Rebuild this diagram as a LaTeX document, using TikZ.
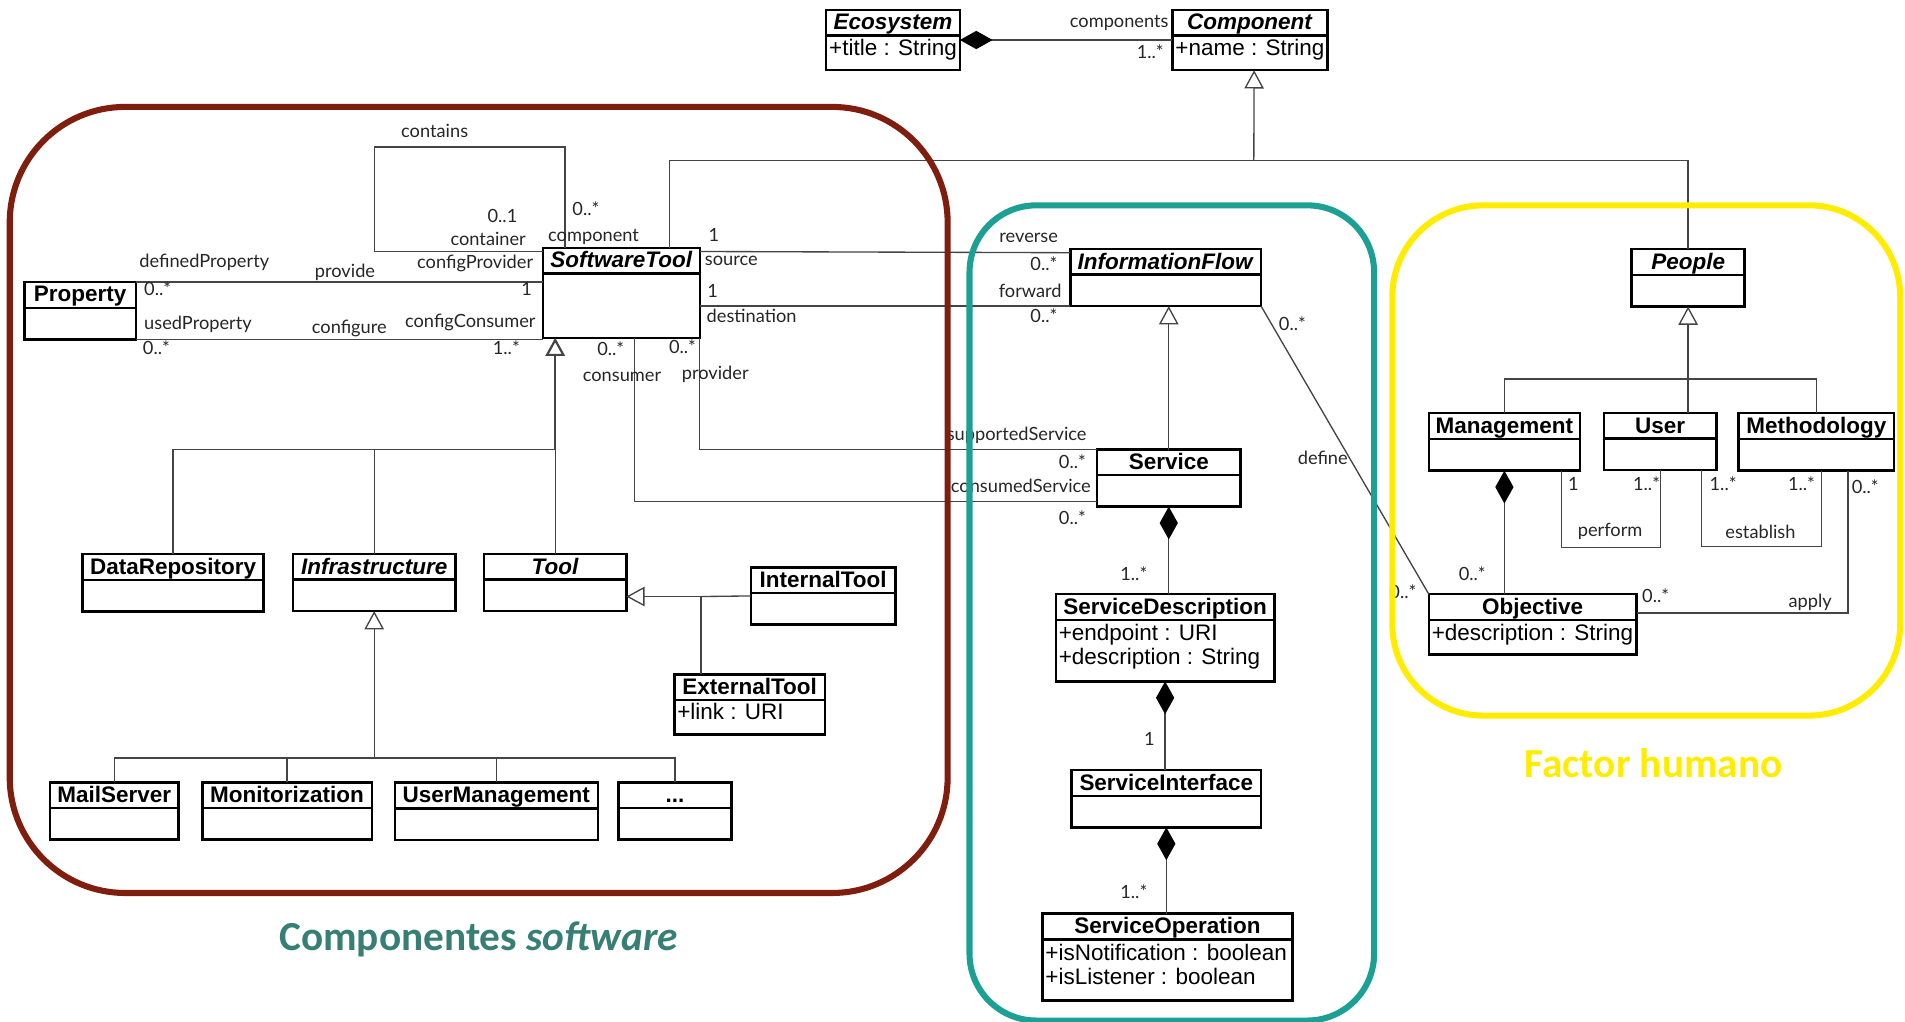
\documentclass[tikz,border=0pt]{standalone}
\usepackage{fontspec}
\setmainfont{Liberation Sans}
\newfontfamily\rolefont{Lato}
\newfontfamily\tagfont{Carlito}
\usepackage{tikz}
\usetikzlibrary{arrows.meta,shapes.multipart}
\definecolor{softred}{HTML}{7F1D0E}
\definecolor{servteal}{HTML}{1BA093}
\definecolor{humanyel}{HTML}{FFEC00}
\definecolor{softlabel}{HTML}{377E74}
\definecolor{linegray}{HTML}{444444}

\newcommand{\ctitle}[1]{\rule[-3.5pt]{0pt}{19pt}#1}
\newcommand{\cattr}[1]{\rule[-11pt]{0pt}{26.5pt}#1}
\newcommand{\cempty}[1]{\rule{0pt}{#1pt}}

\begin{document}
\begin{tikzpicture}[x=1pt,y=-1pt]
\tikzstyle{umlclass}=[draw, line width=2pt, rectangle split, rectangle split parts=2, rectangle split part align={center,left}, align=left, inner xsep=2.5pt, inner ysep=0pt, outer sep=0pt, anchor=north west, font=\fontsize{18.5}{20}\selectfont]
\tikzstyle{assoc}=[draw=linegray, line width=1.1pt]
\tikzstyle{inherit}=[assoc, -{Triangle[open, length=15pt, width=16pt]}]
\tikzstyle{compos}=[assoc, {Diamond[length=27pt, width=15pt, color=black]}-]
\tikzstyle{role}=[font=\rolefont\fontsize{15}{17}\selectfont, inner sep=0pt, text=black!85]
\tikzstyle{group}=[line width=5pt, rounded corners]
\tikzstyle{grouplabel}=[font=\tagfont\bfseries\fontsize{34}{40}\selectfont, inner sep=0pt, anchor=base]

\useasboundingbox (0,0) rectangle (1568,841);

% classes
\node[umlclass, minimum width=110pt] (eco) at (680,8) {\ctitle{\textbf{\textit{Ecosystem}}} \nodepart{second} \cattr{+title : String}};
\node[umlclass, minimum width=127pt] (comp) at (965,8) {\ctitle{\textbf{\textit{Component}}} \nodepart{second} \cattr{+name : String}};
\node[umlclass, minimum width=129pt] (stool) at (447,204) {\ctitle{\textbf{\textit{SoftwareTool}}} \nodepart{second} \cempty{51}};
\node[umlclass, minimum width=92pt] (prop) at (20,232) {\ctitle{\textbf{Property}} \nodepart{second} \cempty{24}};
\node[umlclass, minimum width=157pt] (infoflow) at (881,205) {\ctitle{\textbf{\textit{InformationFlow}}} \nodepart{second} \cempty{24}};
\node[umlclass, minimum width=93pt] (people) at (1343,205) {\ctitle{\textbf{\textit{People}}} \nodepart{second} \cempty{24}};
\node[umlclass, minimum width=118pt] (service) at (903,370) {\ctitle{\textbf{Service}} \nodepart{second} \cempty{24}};
\node[umlclass, minimum width=180pt] (sdesc) at (869,489) {\ctitle{\textbf{ServiceDescription}} \nodepart{second} \rule{0pt}{16pt}+endpoint : URI\\+description : String\rule[-12.5pt]{0pt}{0pt}};
\node[umlclass, minimum width=156pt] (siface) at (882,634) {\ctitle{\textbf{ServiceInterface}} \nodepart{second} \cempty{24}};
\node[umlclass, minimum width=206pt] (soper) at (858,752) {\ctitle{\textbf{ServiceOperation}} \nodepart{second} \rule{0pt}{16pt}+isNotification : boolean\\+isListener : boolean\rule[-12pt]{0pt}{0pt}};
\node[umlclass, minimum width=149pt] (datarep) at (68,456) {\ctitle{\textbf{DataRepository}} \nodepart{second} \cempty{24}};
\node[umlclass, minimum width=134pt] (infra) at (241,456) {\ctitle{\textbf{\textit{Infrastructure}}} \nodepart{second} \cempty{24}};
\node[umlclass, minimum width=117pt] (tool) at (398.5,456) {\ctitle{\textbf{\textit{Tool}}} \nodepart{second} \cempty{24}};
\node[umlclass, minimum width=119pt] (itool) at (618,467) {\ctitle{\textbf{InternalTool}} \nodepart{second} \cempty{24}};
\node[umlclass, minimum width=124pt] (etool) at (555,555) {\ctitle{\textbf{ExternalTool}} \nodepart{second} \cattr{+link : URI}};
\node[umlclass, minimum width=106pt] (mail) at (41,644) {\ctitle{\textbf{MailServer}} \nodepart{second} \cempty{24}};
\node[umlclass, minimum width=139.5pt] (monit) at (166.5,644) {\ctitle{\textbf{Monitorization}} \nodepart{second} \cempty{24}};
\node[umlclass, minimum width=167pt] (usermg) at (325,644) {\ctitle{\textbf{UserManagement}} \nodepart{second} \cempty{24}};
\node[umlclass, minimum width=93pt] (dots) at (509,644) {\ctitle{\textbf{...}} \nodepart{second} \cempty{24}};
\node[umlclass, minimum width=124.5pt] (mgmt) at (1176,340) {\ctitle{\textbf{Management}} \nodepart{second} \cempty{24}};
\node[umlclass, minimum width=93pt] (user) at (1320,340) {\ctitle{\textbf{User}} \nodepart{second} \cempty{24}};
\node[umlclass, minimum width=128pt] (method) at (1431,340) {\ctitle{\textbf{Methodology}} \nodepart{second} \cempty{24}};
\node[umlclass, minimum width=171pt] (objective) at (1176,489) {\ctitle{\textbf{Objective}} \nodepart{second} \cattr{+description : String}};

% generalizations
\coordinate (gcomp) at (1032,132);
\draw[assoc] ([xshift=39.5pt]stool.north) -- ++(0,-72) -| (people.north);
\draw[inherit] (gcomp) -- ([xshift=3.5pt]comp.south);

\coordinate (gst) at (457,370);
\draw[assoc] (datarep.north) |- (gst) -- (tool.north);
\draw[assoc] (infra.north) -- (infra.north |- gst);
\draw[inherit, line width=1.8pt] (gst) -- ([xshift=10pt]stool.south west);

\coordinate (gtool) at (577,491);
\draw[assoc] (itool.west) -- (gtool);
\draw[assoc] (gtool) -- (gtool |- etool.north);
\draw[inherit] (gtool) -- (gtool -| tool.east);

\coordinate (ginfra) at (308,624);
\draw[assoc] (mail.north) |- (ginfra) -| (dots.north);
\draw[assoc] (monit.north) -- (monit.north |- ginfra);
\draw[assoc] (usermg.north) -- (usermg.north |- ginfra);
\draw[inherit] (ginfra) -- (infra.south);

\coordinate (gpeople) at (1389.5,312);
\draw[assoc] (mgmt.north) |- (gpeople) -| (method.north);
\draw[assoc] (gpeople) -- (gpeople |- user.north);
\draw[inherit] (gpeople) -- (people.south);

\draw[inherit] (service.north) -- (service.north |- infoflow.south);

% compositions
\draw[compos] (eco.east) -- (comp.west);
\draw[compos] (service.south) -- (service.south |- sdesc.north);
\draw[compos] (sdesc.south) -- (sdesc.south |- siface.north);
\draw[compos] (siface.south) -- (siface.south |- soper.north);
\draw[compos] (mgmt.south) -- (mgmt.south |- objective.north);

% associations
\coordinate (loopc) at (308,121);
\draw[assoc] ([xshift=18pt]stool.north west) |- (loopc) |- ([yshift=-3pt]stool.north west);
\draw[assoc] (prop.north east) -- (prop.north east -| stool.west);
\draw[assoc] (prop.south east) -- (prop.south east -| stool.west);
\draw[assoc] ([yshift=-3pt]stool.north east) -- ([yshift=-3pt]infoflow.north west);
\draw[assoc] (infoflow.south west) -- (infoflow.south west -| stool.east);
\draw[assoc] (stool.south east) |- (service.north west);
\draw[assoc] ([xshift=-54pt]stool.south east) |- ([yshift=4pt]service.south west);
\draw[assoc] (infoflow.south east) -- (objective.north west);
\draw[assoc] ([xshift=-15pt]mgmt.south east) -- ++(0,63) -| (user.south);
\draw[assoc] ([xshift=-12.5pt]user.south east) -- ++(0,63) -| ([xshift=4pt]method.south);
\draw[assoc] ([xshift=26pt]method.south) |- ([yshift=-15.5pt]objective.north east);

% role names and multiplicities
\node[role, anchor=base east] (lcomps) at (962,23) {components};
\node[role, anchor=base east] (mcomps) at (958,48) {1..*};
\node[role, anchor=base west] (lcontains) at (330,113) {contains};
\node[role, anchor=base east] (mcontainer) at (426,183) {0..1};
\node[role, anchor=base east] (lcontainer) at (433,202) {container};
\node[role, anchor=base west] (mcomponent) at (471,177) {0..*};
\node[role, anchor=base west] (lcomponent) at (451,198.5) {component};
\node[role, anchor=base west] (ldefined) at (114.5,220) {definedProperty};
\node[role, anchor=base west] (lprovide) at (259,228) {provide};
\node[role, anchor=base east] (lcfgprov) at (439,221) {configProvider};
\node[role, anchor=base west] (mdefined) at (118.5,243.5) {0..*};
\node[role, anchor=base east] (mcfgprov) at (438,243.5) {1};
\node[role, anchor=base west] (lused) at (118.5,271.5) {usedProperty};
\node[role, anchor=base west] (lconfigure) at (256.5,274.5) {configure};
\node[role, anchor=base east] (lcfgcons) at (441,269.5) {configConsumer};
\node[role, anchor=base west] (mused) at (117.5,292) {0..*};
\node[role, anchor=base east] (mcfgcons) at (428,292) {1..*};
\node[role, anchor=base west] (msource) at (583,199) {1};
\node[role, anchor=base west] (lsource) at (580,218.5) {source};
\node[role, anchor=base west] (mdest) at (582,244.5) {1};
\node[role, anchor=base west] (ldest) at (581.5,265.5) {destination};
\node[role, anchor=base east] (mconsumer) at (514,292.5) {0..*};
\node[role, anchor=base west] (lconsumer) at (479.5,314) {consumer};
\node[role, anchor=base east] (mprovider) at (573,291) {0..*};
\node[role, anchor=base west] (lprovider) at (561,312) {provider};
\node[role, anchor=base east] (lreverse) at (871,200) {reverse};
\node[role, anchor=base east] (mreverse) at (870.5,223) {0..*};
\node[role, anchor=base east] (lforward) at (874,244.5) {forward};
\node[role, anchor=base east] (mforward) at (870.5,265.5) {0..*};
\node[role, anchor=base east] (lsupported) at (894.5,362.5) {supportedService};
\node[role, anchor=base east] (msupported) at (894,385.5) {0..*};
\node[role, anchor=base east] (lconsumed) at (898,405) {consumedService};
\node[role, anchor=base east] (mconsumed) at (894,431.5) {0..*};
\node[role, anchor=base east] (msdesc) at (944.5,477.5) {1..*};
\node[role, anchor=base] (msiface) at (946,613.5) {1};
\node[role, anchor=base east] (msoper) at (944.5,739.5) {1..*};
\node[role, anchor=base west] (mdefine) at (1052.5,272) {0..*};
\node[role, anchor=base west] (ldefine) at (1068,382.5) {define};
\node[role, anchor=base east] (mdefobj) at (1166,492.5) {0..*};
\node[role, anchor=base] (mperfmgmt) at (1295,403.5) {1};
\node[role, anchor=base west] (mperfuser) at (1344,403.5) {1..*};
\node[role, anchor=base west] (lperform) at (1298.5,441.5) {perform};
\node[role, anchor=base west] (mestuser) at (1407,403.5) {1..*};
\node[role, anchor=base west] (mestmeth) at (1471.5,403.5) {1..*};
\node[role, anchor=base west] (lestablish) at (1420,443.5) {establish};
\node[role, anchor=base west] (mapplymeth) at (1524,406) {0..*};
\node[role, anchor=base west] (mobjmgmt) at (1200.5,477.5) {0..*};
\node[role, anchor=base west] (mapplyobj) at (1351.5,496) {0..*};
\node[role, anchor=base west] (lapply) at (1472,500) {apply};

% groups
\draw[group, softred, rounded corners=95pt] (8,88) rectangle (780,735);
\draw[group, servteal, rounded corners=55pt] (798,169) rectangle (1131,840);
\draw[group, humanyel, rounded corners=75pt] (1146,169) rectangle (1564,589);
\node[grouplabel, text=softlabel] (lsoft) at (394,782) {Componentes \textit{software}};
\node[grouplabel, text=humanyel] (lhuman) at (1361,640) {Factor humano};

\end{tikzpicture}
\end{document}
